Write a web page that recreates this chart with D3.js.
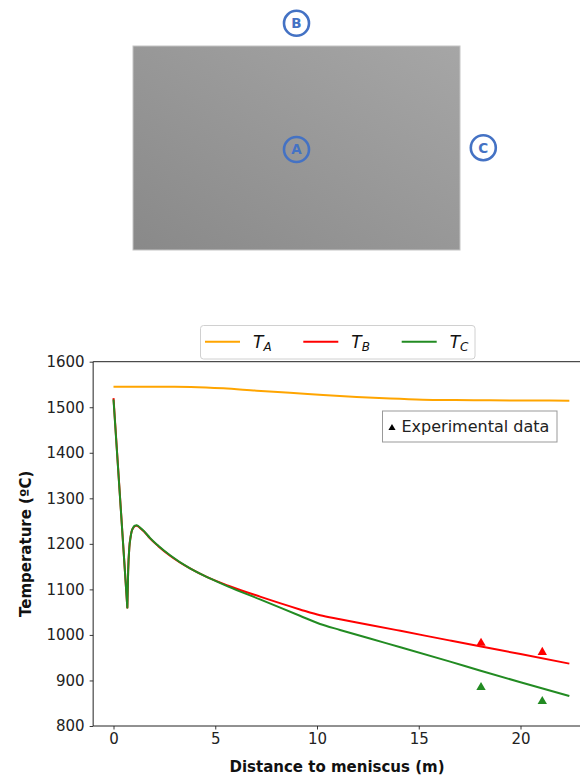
<!DOCTYPE html>
<html>
<head>
<meta charset="utf-8">
<script src="https://cdn.jsdelivr.net/npm/d3@7/dist/d3.min.js"></script>
<style>
  html, body { margin: 0; padding: 0; background: #fff; }
  svg { display: block; font-family: "DejaVu Sans", sans-serif; }
</style>
</head>
<body>
<svg id="chart" width="580" height="775"></svg>
<script>
// ---------- data ----------
const distTA = [0, 1, 2, 3, 3.8, 5.4, 7.04, 8.67, 10.3, 11.95, 13.6, 15.2, 16.8, 18.5, 20.5, 22.4];
const tempA  = [1545, 1545, 1545, 1545, 1544.5, 1541.5, 1536.4, 1532, 1527, 1522.5, 1519, 1516.6, 1515.8, 1515.3, 1514.8, 1514.5];

const distBC = [0, 0.68, 0.72, 0.78, 0.84, 0.89, 0.97, 1.05, 1.14, 1.3, 1.5, 1.79, 2.2, 2.78, 3.76, 4.74, 5.64, 7.2, 9.16, 10.15, 11.13, 12.6, 14.1, 16.5, 18, 20, 22.4];
const tempB  = [1520, 1060, 1140, 1193, 1215, 1227, 1235, 1239, 1240, 1235, 1227, 1212, 1195, 1174, 1146, 1124, 1108, 1084, 1056, 1043, 1034.5, 1022, 1009, 988, 975, 958, 937];
const tempC  = [1517, 1060, 1140, 1193, 1215, 1227, 1236, 1240, 1241, 1236, 1228, 1213, 1196, 1175, 1146, 1124, 1106, 1078, 1042, 1024, 1011, 992, 973, 942, 922, 896, 866];

const expDist = [18.06, 21.07];
const expB    = [982, 962];
const expC    = [885, 854];

const xTicks = [0, 5, 10, 15, 20];
const yTicks = [800, 900, 1000, 1100, 1200, 1300, 1400, 1500, 1600];

const seriesNames = ["A", "B", "C"];
const seriesColors = ["#ffa500", "#ff0000", "#228b22"];

// ---------- svg ----------
const svg = d3.select("#chart");

// ---------- top schematic ----------
const defs = svg.append("defs");
const grad = defs.append("linearGradient").attr("id", "slabGrad")
  .attr("x1", "0%").attr("y1", "100%").attr("x2", "100%").attr("y2", "0%");
grad.append("stop").attr("offset", "0%").attr("stop-color", "#898989");
grad.append("stop").attr("offset", "100%").attr("stop-color", "#a6a6a6");

svg.append("rect").attr("x", 133).attr("y", 46).attr("width", 327).attr("height", 204)
  .attr("fill", "url(#slabGrad)").attr("stroke", "#c4c4c4").attr("stroke-width", 1);

const markers = [
  { label: "B", cx: 296.5, cy: 23.3 },
  { label: "A", cx: 296.5, cy: 149.5 },
  { label: "C", cx: 483.3, cy: 147.7 }
];
const mg = svg.append("g").selectAll("g").data(markers).join("g")
  .attr("transform", d => `translate(${d.cx},${d.cy})`);
mg.append("circle").attr("r", 12.5).attr("fill", "none")
  .attr("stroke", "#4472c4").attr("stroke-width", 2.6);
mg.append("text").text(d => d.label).attr("text-anchor", "middle").attr("dy", "0.36em")
  .attr("font-size", 13.5).attr("font-weight", "bold").attr("fill", "#4472c4");

// ---------- chart ----------
const x = d3.scaleLinear().domain([-1, 23.5]).range([93.15, 93.15 + 24.5 * 20.35]);
const y = d3.scaleLinear().domain([800, 1600]).range([726, 361.7]);

const plotL = x(-1), plotR = 580, plotT = y(1600), plotB = y(800);

// axes
const xAxis = svg.append("g").attr("transform", `translate(0,${plotB})`)
  .call(d3.axisBottom(x).tickValues(xTicks).tickSize(3.5).tickPadding(4).tickFormat(d3.format("d")));
const yAxis = svg.append("g").attr("transform", `translate(${plotL},0)`)
  .call(d3.axisLeft(y).tickValues(yTicks).tickSize(3.5).tickPadding(5).tickFormat(d3.format("d")));
[xAxis, yAxis].forEach(a => {
  a.select(".domain").remove();
  a.selectAll("text").attr("font-size", 15).attr("fill", "#222").attr("font-family", "DejaVu Sans");
  a.selectAll("line").attr("stroke", "#222").attr("stroke-width", 0.9);
});
// spines
svg.append("line").attr("x1", plotL).attr("x2", plotR).attr("y1", plotB).attr("y2", plotB).attr("stroke", "#222").attr("stroke-width", 1);
svg.append("line").attr("x1", plotL).attr("x2", plotR).attr("y1", plotT).attr("y2", plotT).attr("stroke", "#222").attr("stroke-width", 1);
svg.append("line").attr("x1", plotL).attr("x2", plotL).attr("y1", plotT).attr("y2", plotB).attr("stroke", "#222").attr("stroke-width", 1);

// axis labels
svg.append("text").text("Distance to meniscus (m)")
  .attr("x", 337).attr("y", 771.5).attr("text-anchor", "middle")
  .attr("font-size", 15).attr("font-weight", "bold").attr("fill", "#111");
svg.append("text").text("Temperature (ºC)")
  .attr("transform", `translate(31,${(plotT + plotB) / 2}) rotate(-90)`)
  .attr("text-anchor", "middle")
  .attr("font-size", 15).attr("font-weight", "bold").attr("fill", "#111");

// lines
const lineA = d3.line().x((d, i) => x(distTA[i])).y(d => y(d)).curve(d3.curveMonotoneX);
// B/C: straight drop to the minimum, smooth curve after it
function bcPath(temps) {
  const pts = distBC.map((d, i) => [x(d), y(temps[i])]);
  const drop = d3.line()(pts.slice(0, 2));
  const rest = d3.line().curve(d3.curveMonotoneX)(pts.slice(1));
  return drop + rest.replace(/^M/, "L");
}

svg.append("path").datum(tempA).attr("d", lineA).attr("fill", "none")
  .attr("stroke", seriesColors[0]).attr("stroke-width", 2);
svg.append("path").attr("d", bcPath(tempB)).attr("fill", "none")
  .attr("stroke", seriesColors[1]).attr("stroke-width", 2).attr("stroke-linejoin", "round");
svg.append("path").attr("d", bcPath(tempC)).attr("fill", "none")
  .attr("stroke", seriesColors[2]).attr("stroke-width", 2).attr("stroke-linejoin", "round");

// experimental points
const tri = d3.symbol().type(d3.symbolTriangle).size(38);
svg.append("g").selectAll("path").data(expB).join("path")
  .attr("d", tri).attr("fill", seriesColors[1])
  .attr("transform", (d, i) => `translate(${x(expDist[i])},${y(d)})`);
svg.append("g").selectAll("path").data(expC).join("path")
  .attr("d", tri).attr("fill", seriesColors[2])
  .attr("transform", (d, i) => `translate(${x(expDist[i])},${y(d)})`);

// legend 1
const leg = svg.append("g");
leg.append("rect").attr("x", 200.5).attr("y", 325.5).attr("width", 274.5).attr("height", 33.5)
  .attr("rx", 3).attr("fill", "#fff").attr("stroke", "#d0d0d0").attr("stroke-width", 1);
const legX = [205, 303.3, 401.7];
seriesNames.forEach((n, i) => {
  const g = leg.append("g");
  g.append("line").attr("x1", legX[i]).attr("x2", legX[i] + 35).attr("y1", 341.7).attr("y2", 341.7)
    .attr("stroke", seriesColors[i]).attr("stroke-width", 2);
  const t = g.append("text").attr("x", legX[i] + 48).attr("y", 347.5)
    .attr("font-size", 17).attr("fill", "#111").attr("font-family", "DejaVu Sans");
  t.append("tspan").text("T").attr("font-style", "italic");
  t.append("tspan").text(n).attr("font-style", "italic").attr("font-size", 12).attr("dy", 3);
});

// legend 2
const leg2 = svg.append("g");
leg2.append("rect").attr("x", 382.5).attr("y", 411).attr("width", 174.5).attr("height", 31)
  .attr("fill", "#fff").attr("stroke", "#999").attr("stroke-width", 1);
leg2.append("path").attr("d", d3.symbol().type(d3.symbolTriangle).size(22))
  .attr("transform", "translate(392,428)").attr("fill", "#000");
leg2.append("text").text("Experimental data").attr("x", 401.5).attr("y", 432)
  .attr("font-size", 16).attr("fill", "#222");
</script>
</body>
</html>
